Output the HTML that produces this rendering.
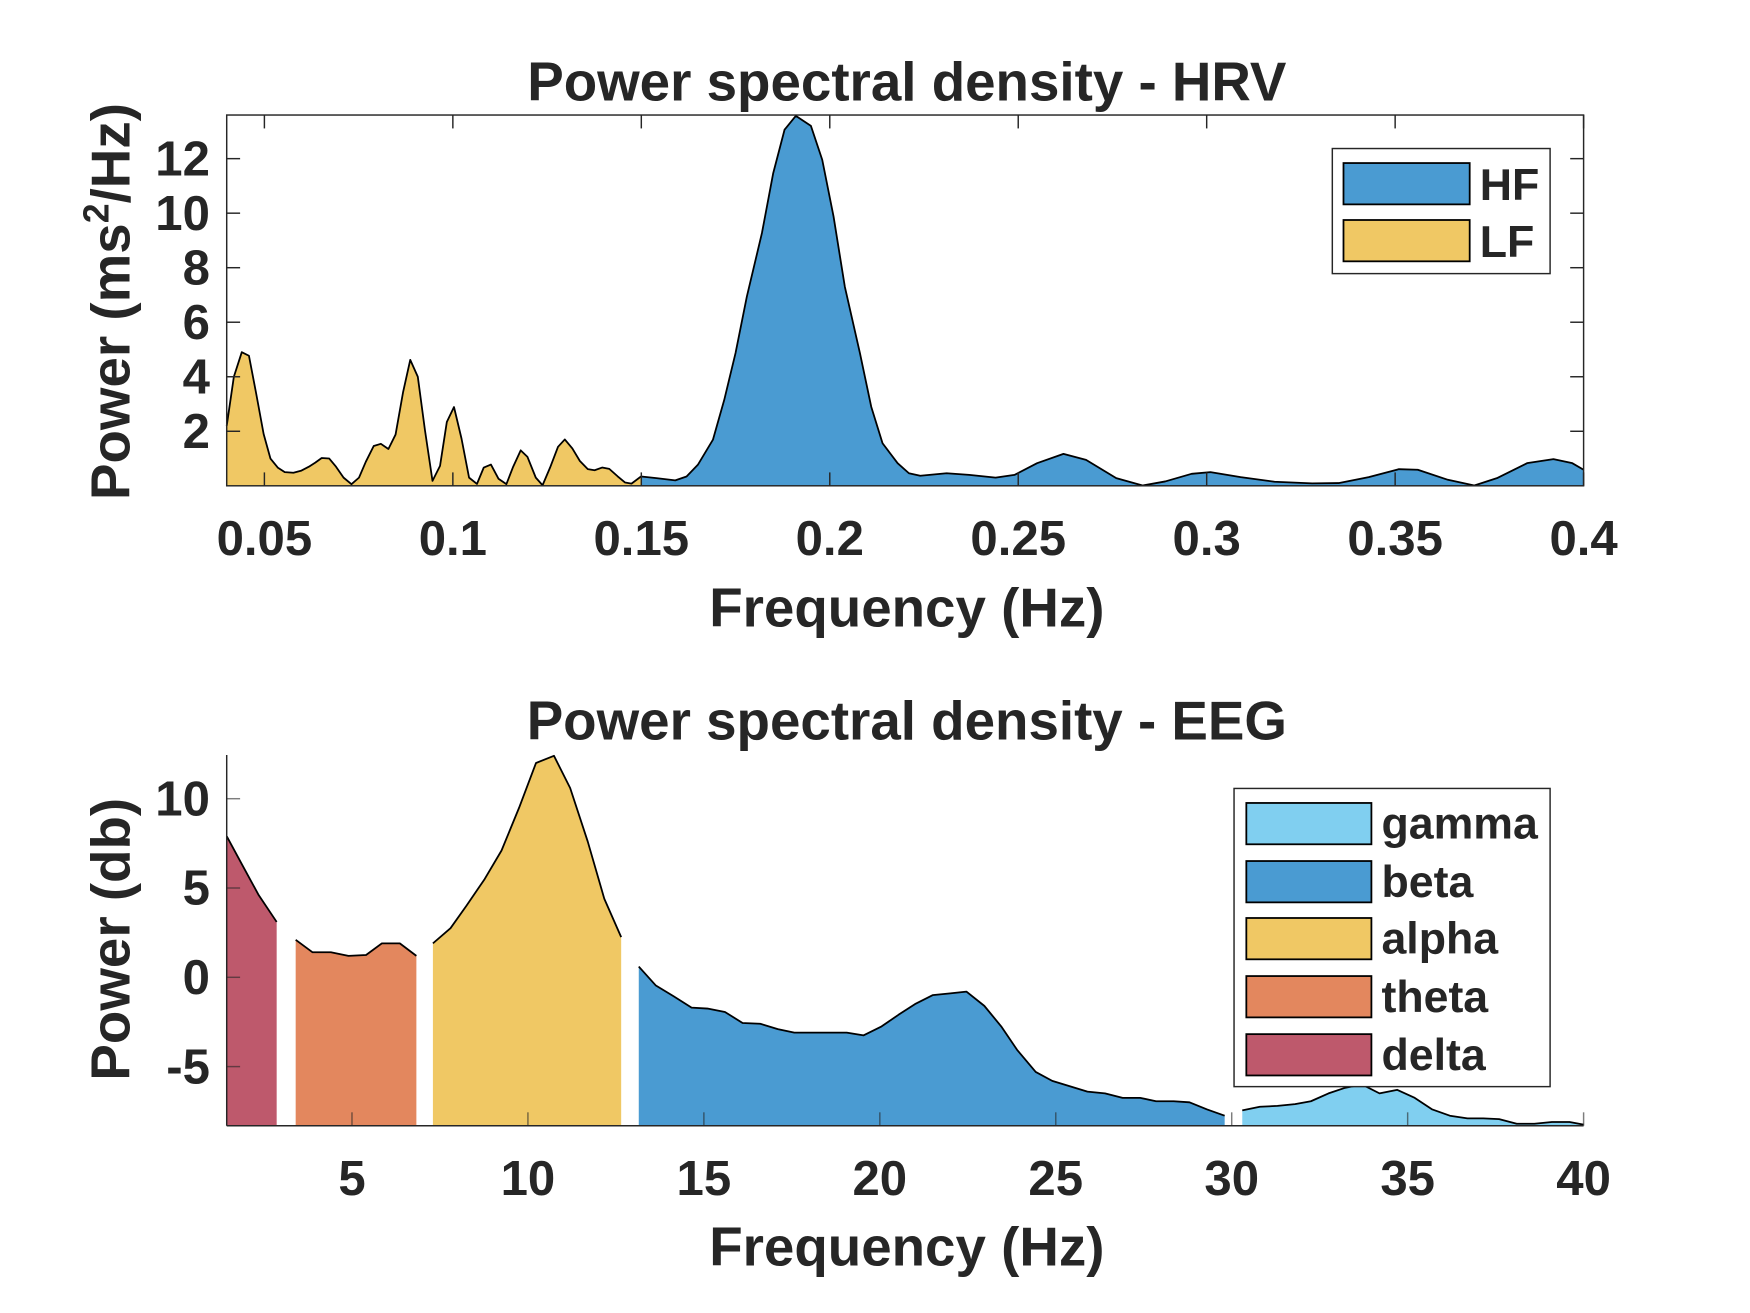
<!DOCTYPE html>
<html><head><meta charset="utf-8"><style>
html,body{margin:0;padding:0;background:#fff}
svg{display:block}
text{font-family:"Liberation Sans",Arial,sans-serif;font-weight:bold;fill:#262626}
</style></head><body>
<svg id="chart" width="1750" height="1313" viewBox="0 0 1567 1175.7" preserveAspectRatio="none" xmlns="http://www.w3.org/2000/svg">
<g id="hrv"></g>
<g id="eeg"></g>
</svg>
<script>
const hrvLfFreq=[0.04,0.0419,0.044,0.0459,0.0478,0.0498,0.0516,0.0536,0.0554,0.0577,0.0597,0.0618,0.0635,0.0652,0.0672,0.069,0.071,0.0731,0.0751,0.0769,0.079,0.0809,0.0829,0.0848,0.0868,0.0887,0.0907,0.0926,0.0946,0.0966,0.0984,0.1003,0.1023,0.1043,0.1064,0.1082,0.1101,0.1121,0.1142,0.116,0.118,0.1198,0.122,0.1238,0.1258,0.1279,0.1297,0.1317,0.1337,0.1358,0.1376,0.1396,0.1415,0.1437,0.1457,0.1474,0.15];
const hrvLfPower=[2.2,4.0,4.9,4.77,3.4,1.9,1.0,0.66,0.5,0.48,0.55,0.7,0.85,1.02,1.0,0.7,0.3,0.06,0.3,0.88,1.46,1.54,1.35,1.88,3.44,4.62,4.0,2.04,0.18,0.73,2.34,2.89,1.73,0.3,0.07,0.67,0.78,0.26,0.06,0.7,1.3,1.06,0.3,0.02,0.67,1.43,1.7,1.37,0.91,0.61,0.57,0.67,0.62,0.35,0.12,0.08,0.35];
const hrvHfFreq=[0.15,0.154,0.159,0.162,0.165,0.169,0.172,0.175,0.178,0.182,0.185,0.188,0.191,0.195,0.198,0.201,0.204,0.208,0.211,0.214,0.218,0.221,0.224,0.231,0.237,0.244,0.249,0.255,0.262,0.268,0.276,0.283,0.289,0.296,0.301,0.309,0.318,0.328,0.335,0.343,0.351,0.356,0.364,0.371,0.377,0.385,0.392,0.397,0.4];
const hrvHfPower=[0.34,0.28,0.2,0.34,0.77,1.69,3.15,4.87,6.94,9.27,11.47,13.06,13.57,13.2,11.96,9.88,7.3,4.87,2.9,1.56,0.83,0.46,0.37,0.46,0.4,0.3,0.4,0.83,1.17,0.95,0.28,0.01,0.16,0.44,0.5,0.32,0.15,0.09,0.1,0.32,0.61,0.59,0.22,0.01,0.28,0.83,0.98,0.83,0.59];
const hrvXTicks=[0.05,0.1,0.15,0.2,0.25,0.3,0.35,0.4];
const hrvXTickLabels=["0.05","0.1","0.15","0.2","0.25","0.3","0.35","0.4"];
const hrvYTicks=[2,4,6,8,10,12];

const deltaFreq=[1.44,1.88,2.35,2.86];
const deltaPower=[7.9,6.3,4.6,3.1];
const thetaFreq=[3.4,3.88,4.4,4.9,5.4,5.85,6.36,6.83];
const thetaPower=[2.1,1.4,1.4,1.2,1.25,1.9,1.9,1.2];
const alphaFreq=[7.3,7.8,8.25,8.77,9.25,9.75,10.23,10.74,11.2,11.7,12.17,12.65];
const alphaPower=[1.9,2.75,4.0,5.5,7.1,9.5,12.0,12.4,10.6,7.6,4.4,2.25];
const betaFreq=[13.15,13.63,14.14,14.65,15.1,15.6,16.1,16.6,17.1,17.57,18.08,18.55,19.06,19.54,20.05,20.53,21.0,21.5,22.0,22.46,22.97,23.45,23.9,24.43,24.9,25.4,25.9,26.4,26.9,27.4,27.85,28.35,28.8,29.3,29.8];
const betaPower=[0.6,-0.45,-1.06,-1.7,-1.75,-1.94,-2.56,-2.6,-2.9,-3.1,-3.1,-3.1,-3.1,-3.25,-2.75,-2.1,-1.5,-1.0,-0.9,-0.8,-1.6,-2.75,-4.06,-5.3,-5.8,-6.1,-6.4,-6.5,-6.75,-6.75,-6.94,-6.94,-7.0,-7.4,-7.75];
const gammaFreq=[30.3,30.8,31.3,31.8,32.25,32.75,33.2,33.7,34.2,34.7,35.2,35.7,36.2,36.7,37.15,37.6,38.1,38.6,39.1,39.6,40];
const gammaPower=[-7.45,-7.25,-7.2,-7.1,-6.94,-6.5,-6.2,-6.0,-6.5,-6.3,-6.75,-7.4,-7.75,-7.9,-7.9,-7.94,-8.2,-8.2,-8.1,-8.1,-8.25];
const eegXTicks=[5,10,15,20,25,30,35,40];
const eegXTickLabels=["5","10","15","20","25","30","35","40"];
const eegYTicks=[-5,0,5,10];
const eegYTickLabels=["-5","0","5","10"];

const NS="http://www.w3.org/2000/svg";
function mk(parent,tag,attrs){const e=document.createElementNS(NS,tag);for(const k in attrs)e.setAttribute(k,attrs[k]);parent.appendChild(e);return e;}

const TICKFS=44, TITLEFS=49, LABELFS=49, LEGFS=40;

// ---------- HRV ----------
const H={l:203,r:1418,t:103,b:435,x0:0.04,x1:0.4,y0:0,y1:13.6};
const hx=v=>H.l+(v-H.x0)/(H.x1-H.x0)*(H.r-H.l);
const hy=v=>H.b-(v-H.y0)/(H.y1-H.y0)*(H.b-H.t);
const hrv=document.getElementById('hrv');

function area(g,xs,ys,fx,fy,base,color,name){
  let d='M'+fx(xs[0])+','+base;
  xs.forEach((x,i)=>{d+=' L'+fx(x).toFixed(2)+','+fy(ys[i]).toFixed(2);});
  d+=' L'+fx(xs[xs.length-1])+','+base+' Z';
  const p=mk(g,'path',{d:d,fill:color,stroke:'none'});
  
  
  const pts=xs.map((x,i)=>fx(x).toFixed(2)+','+fy(ys[i]).toFixed(2)).join(' ');
  const l=mk(g,'polyline',{points:pts,fill:'none',stroke:'#000','stroke-width':1.6,'stroke-linejoin':'round'});
  
  
}
area(hrv,hrvLfFreq,hrvLfPower,hx,hy,H.b,'#F0C864','lf-band');
area(hrv,hrvHfFreq,hrvHfPower,hx,hy,H.b,'#4A9BD2','hf-band');

const hb=mk(hrv,'rect',{x:H.l,y:H.t,width:H.r-H.l,height:H.b-H.t,fill:'none',stroke:'#262626','stroke-width':1.3});


hrvXTicks.forEach((v,i)=>{
  const x=hx(v);
  mk(hrv,'line',{x1:x,y1:H.b,x2:x,y2:H.b-12,stroke:'#262626','stroke-width':1.3});
  mk(hrv,'line',{x1:x,y1:H.t,x2:x,y2:H.t+12,stroke:'#262626','stroke-width':1.3});
  const t=mk(hrv,'text',{x:x,y:497,'text-anchor':'middle','font-size':TICKFS});
  t.textContent=hrvXTickLabels[i];
  
  
});
hrvYTicks.forEach(v=>{
  const y=hy(v);
  mk(hrv,'line',{x1:H.l,y1:y,x2:H.l+12,y2:y,stroke:'#262626','stroke-width':1.3});
  mk(hrv,'line',{x1:H.r,y1:y,x2:H.r-12,y2:y,stroke:'#262626','stroke-width':1.3});
  const t=mk(hrv,'text',{x:188,y:y+15,'text-anchor':'end','font-size':TICKFS});
  t.textContent=String(v);
  
  
});
let t=mk(hrv,'text',{x:812,y:90,'text-anchor':'middle','font-size':TITLEFS,fill:'#000'});
t.textContent='Power spectral density - HRV';


t=mk(hrv,'text',{x:812,y:561,'text-anchor':'middle','font-size':LABELFS});
t.textContent='Frequency (Hz)';


t=mk(hrv,'text',{x:0,y:0,'text-anchor':'middle','font-size':LABELFS,transform:'translate(116,270) rotate(-90)'});
t.innerHTML='Power (ms<tspan dy="-19" font-size="32">2</tspan><tspan dy="19">/Hz)</tspan>';



// HRV legend
const hl=mk(hrv,'g',{});


mk(hl,'rect',{x:1193,y:133,width:195,height:112,fill:'#fff',stroke:'#262626','stroke-width':1.3});
[['HF','#4A9BD2',146],['LF','#F0C864',197]].forEach(e=>{
  const g=mk(hl,'g',{});
  
  
  mk(g,'rect',{x:1203,y:e[2],width:113,height:37,fill:e[1],stroke:'#000','stroke-width':1.6});
  const tt=mk(g,'text',{x:1325,y:e[2]+33,'font-size':LEGFS,fill:'#000'});
  tt.textContent=e[0];
});

// ---------- EEG ----------
const E={l:203,r:1418,t:676,b:1008,x0:1.44,x1:40,y0:-8.31,y1:12.45};
const ex=v=>E.l+(v-E.x0)/(E.x1-E.x0)*(E.r-E.l);
const ey=v=>E.b-(v-E.y0)/(E.y1-E.y0)*(E.b-E.t);
const eeg=document.getElementById('eeg');
area(eeg,deltaFreq,deltaPower,ex,ey,E.b,'#BE596C','delta-band');
area(eeg,thetaFreq,thetaPower,ex,ey,E.b,'#E3875E','theta-band');
area(eeg,alphaFreq,alphaPower,ex,ey,E.b,'#F0C864','alpha-band');
area(eeg,betaFreq,betaPower,ex,ey,E.b,'#4A9BD2','beta-band');
area(eeg,gammaFreq,gammaPower,ex,ey,E.b,'#80CFF0','gamma-band');
mk(eeg,'line',{x1:E.l,y1:E.t,x2:E.l,y2:E.b,stroke:'#262626','stroke-width':1.3});
mk(eeg,'line',{x1:E.l,y1:E.b,x2:E.r,y2:E.b,stroke:'#262626','stroke-width':1.3});
eegXTicks.forEach((v,i)=>{
  const x=ex(v);
  mk(eeg,'line',{x1:x,y1:E.b,x2:x,y2:E.b-12,stroke:'#262626','stroke-width':1.3,'stroke-opacity':0.6});
  const tt=mk(eeg,'text',{x:x,y:1070,'text-anchor':'middle','font-size':TICKFS});
  tt.textContent=eegXTickLabels[i];
  
  
});
eegYTicks.forEach((v,i)=>{
  const y=ey(v);
  mk(eeg,'line',{x1:E.l,y1:y,x2:E.l+12,y2:y,stroke:'#262626','stroke-width':1.3,'stroke-opacity':0.6});
  const tt=mk(eeg,'text',{x:188,y:y+15,'text-anchor':'end','font-size':TICKFS});
  tt.textContent=eegYTickLabels[i];
  
  
});
t=mk(eeg,'text',{x:812,y:662,'text-anchor':'middle','font-size':TITLEFS,fill:'#000'});
t.textContent='Power spectral density - EEG';


t=mk(eeg,'text',{x:812,y:1133,'text-anchor':'middle','font-size':LABELFS});
t.textContent='Frequency (Hz)';


t=mk(eeg,'text',{x:0,y:0,'text-anchor':'middle','font-size':LABELFS,transform:'translate(116,841) rotate(-90)'});
t.textContent='Power (db)';



const el=mk(eeg,'g',{});


mk(el,'rect',{x:1105,y:706,width:283,height:267,fill:'#fff',stroke:'#262626','stroke-width':1.3});
[['gamma','#80CFF0',719],['beta','#4A9BD2',771],['alpha','#F0C864',822],['theta','#E3875E',874],['delta','#BE596C',926]].forEach(e=>{
  const g=mk(el,'g',{});
  
  
  mk(g,'rect',{x:1116,y:e[2],width:112,height:37,fill:e[1],stroke:'#000','stroke-width':1.6});
  const tt=mk(g,'text',{x:1237,y:e[2]+32,'font-size':LEGFS,fill:'#000'});
  tt.textContent=e[0];
});
</script>
</body></html>
